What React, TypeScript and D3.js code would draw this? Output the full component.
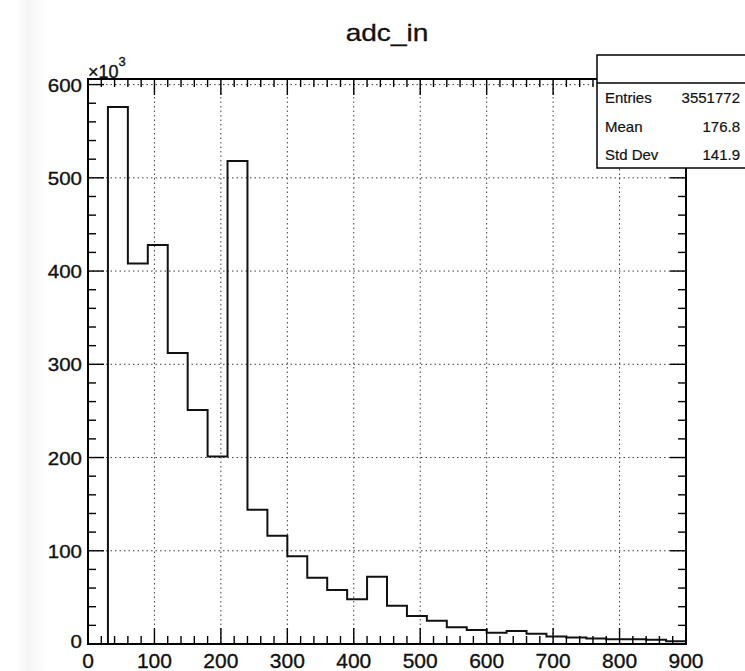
import React from 'react';
import * as d3 from 'd3';

// histogram "adc_in": 30 bins of width 30 on [0, 900], counts in units of 10^3
const binLow = [0, 30, 60, 90, 120, 150, 180, 210, 240, 270, 300, 330, 360, 390, 420,
  450, 480, 510, 540, 570, 600, 630, 660, 690, 720, 750, 780, 810, 840, 870];
const binWidth = 30;
const counts = [0, 576, 408, 428, 312, 251, 201, 518, 144, 116, 94, 71, 58, 48, 72,
  41, 30, 25, 18, 15, 12, 14, 11, 8, 7, 6, 5, 5, 4.5, 3];

const xTicks = [0, 100, 200, 300, 400, 500, 600, 700, 800, 900];
const yTicks = [0, 100, 200, 300, 400, 500, 600];

const statsLabels = ['Entries', 'Mean', 'Std Dev'];
const statsValues = ['3551772', '176.8', '141.9'];

const W = 745;
const H = 671;
const margin = { top: 79, right: 59, bottom: 27, left: 88 };
const font = '"Liberation Sans", Arial, Helvetica, sans-serif';

const App = () => {
  const x = d3.scaleLinear().domain([0, 900]).range([margin.left, W - margin.right]);
  const y = d3.scaleLinear().domain([0, 606]).range([H - margin.bottom, margin.top]);

  // step outline of the histogram
  const pts: [number, number][] = [[binLow[0], 0]];
  binLow.forEach((lo, i) => {
    pts.push([lo, counts[i]]);
    pts.push([lo + binWidth, counts[i]]);
  });
  pts.push([binLow[binLow.length - 1] + binWidth, 0]);
  const line = d3.line<[number, number]>().x(d => x(d[0])).y(d => y(d[1]));

  const xMinor = d3.range(0, 901, 20).filter(v => v % 100 !== 0);
  const yMinor = d3.range(0, 607, 20).filter(v => v % 100 !== 0);

  const x0 = x(0), x1 = x(900), yb = y(0), yt = margin.top;

  return (
    <svg width={W} height={H} style={{ position: 'absolute', left: 0, top: 0, background: '#fff' }}
      fontFamily={font}>
      <defs>
        <linearGradient id="edge" x1="0" x2="1" y1="0" y2="0">
          <stop offset="0%" stopColor="#ececec" stopOpacity={0} />
          <stop offset="40%" stopColor="#f0f0f0" stopOpacity={0.7} />
          <stop offset="100%" stopColor="#ffffff" stopOpacity={0} />
        </linearGradient>
      </defs>
      <rect x={14} y={0} width={40} height={H} fill="url(#edge)" />

      {/* grid */}
      <g stroke="#111" strokeWidth={1} strokeDasharray="1.5,3" opacity={0.8}>
        {xTicks.slice(1, -1).map(v => (
          <line key={'gx' + v} x1={x(v)} x2={x(v)} y1={yt} y2={yb} />
        ))}
        {yTicks.slice(1).map(v => (
          <line key={'gy' + v} x1={x0} x2={x1} y1={y(v)} y2={y(v)} />
        ))}
      </g>

      {/* histogram */}
      <path d={line(pts) || ''} fill="none" stroke="#111" strokeWidth={2} />

      {/* ticks */}
      <g stroke="#000" strokeWidth={1.4}>
        {xMinor.map(v => (
          <g key={'xm' + v}>
            <line x1={x(v)} x2={x(v)} y1={yb} y2={yb - 8} />
            <line x1={x(v)} x2={x(v)} y1={yt} y2={yt + 8} />
          </g>
        ))}
        {xTicks.map(v => (
          <g key={'xM' + v}>
            <line x1={x(v)} x2={x(v)} y1={yb} y2={yb - 16} />
            <line x1={x(v)} x2={x(v)} y1={yt} y2={yt + 16} />
          </g>
        ))}
        {yMinor.map(v => (
          <g key={'ym' + v}>
            <line x1={x0} x2={x0 + 8} y1={y(v)} y2={y(v)} />
            <line x1={x1} x2={x1 - 8} y1={y(v)} y2={y(v)} />
          </g>
        ))}
        {yTicks.map(v => (
          <g key={'yM' + v}>
            <line x1={x0} x2={x0 + 16} y1={y(v)} y2={y(v)} />
            <line x1={x1} x2={x1 - 16} y1={y(v)} y2={y(v)} />
          </g>
        ))}
      </g>

      {/* frame */}
      <rect x={x0} y={yt} width={x1 - x0} height={yb - yt} fill="none" stroke="#000" strokeWidth={2} />

      {/* tick labels */}
      <g fill="#111" stroke="#111" strokeWidth={0.35}>
        {xTicks.map(v => (
          <text key={'xl' + v} x={x(v)} y={yb + 24} fontSize={21} textAnchor="middle">{v}</text>
        ))}
        {yTicks.map(v => (
          <text key={'yl' + v} transform={`translate(${x0 - 6},${y(v) + (v === 0 ? 4 : 7)}) scale(1.08,1)`}
            fontSize={19} textAnchor="end">{v}</text>
        ))}
        <text x={x0} y={yt - 1} fontSize={18}>
          ×10<tspan dy={-12} fontSize={13}>3</tspan>
        </text>
      </g>

      {/* title */}
      <text transform="translate(387,41) scale(1.22,1)" fontSize={23} textAnchor="middle"
        fill="#111" stroke="#111" strokeWidth={0.3}>adc_in</text>

      {/* stats box */}
      <g>
        <rect x={597} y={55} width={160} height={113} fill="#fff" stroke="#000" strokeWidth={1.5} />
        <line x1={597} x2={W} y1={83} y2={83} stroke="#000" strokeWidth={1.5} />
        {statsLabels.map((s, i) => (
          <g key={s} fontSize={15} fill="#111" stroke="#111" strokeWidth={0.2}>
            <text x={605} y={103 + i * 28.5}>{s}</text>
            <text x={740} y={103 + i * 28.5} textAnchor="end">{statsValues[i]}</text>
          </g>
        ))}
      </g>
    </svg>
  );
};

export default App;
